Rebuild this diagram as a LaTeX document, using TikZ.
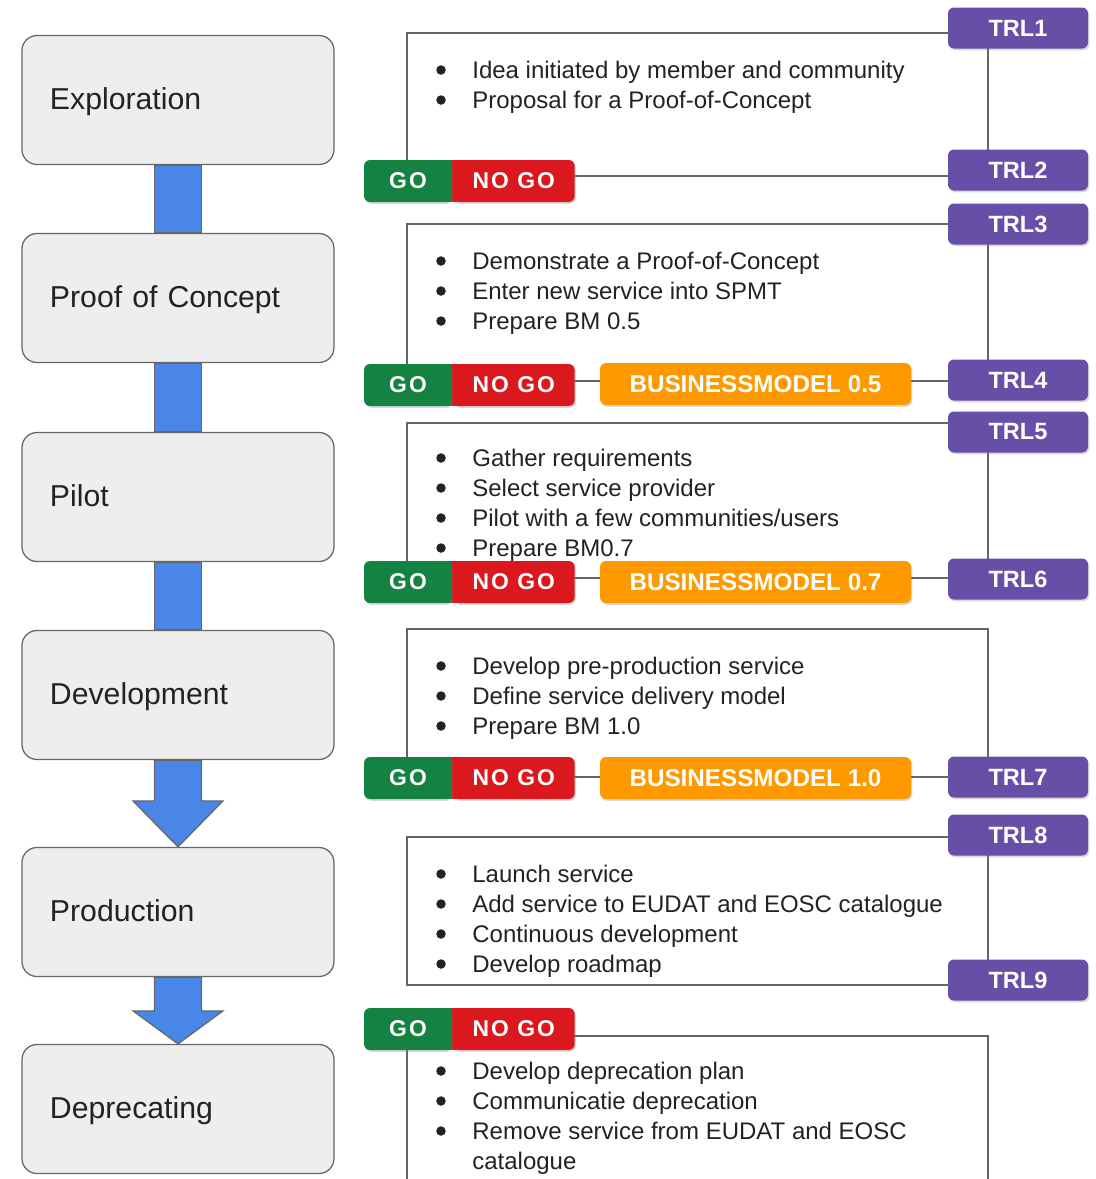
\documentclass[tikz,border=0pt]{standalone}
\usepackage{fontspec}
\setmainfont{Liberation Sans}
\newfontfamily\gofont[LetterSpace=9]{Liberation Sans}
\usetikzlibrary{positioning, calc, backgrounds, shadows}

\definecolor{phasefill}{HTML}{EEEEEE}
\definecolor{linegray}{HTML}{666666}
\definecolor{flowblue}{HTML}{4A86E8}
\definecolor{trlpurple}{HTML}{674EA7}
\definecolor{gogreen}{RGB}{20,130,65}
\definecolor{nogored}{RGB}{218,24,30}
\definecolor{bmorange}{HTML}{FF9900}
\definecolor{txt}{HTML}{222222}

\begin{document}
\begin{tikzpicture}[
  x=0.2mm, y=-0.2mm,
  phase/.style   ={draw=linegray, line width=0.25mm, fill=phasefill, rounded corners=3mm, minimum width=62.4mm, minimum height=25.8mm, inner xsep=5.6mm, text width=51.2mm, align=left, text height=13.4pt, text depth=2.5pt, font=\fontsize{17.2}{20}\selectfont, text=txt},
  bar/.style     ={draw=linegray, line width=0.25mm, fill=flowblue},
  frame/.style   ={draw=linegray, line width=0.3mm},
  badge/.style   ={rounded corners=1.2mm, text=white, minimum height=8.4mm, inner sep=0pt, drop shadow={shadow xshift=0.25mm, shadow yshift=-0.35mm, opacity=0.3}},
  trl/.style     ={badge, fill=trlpurple, minimum width=28mm, minimum height=8.2mm, font=\fontsize{13.4}{16}\selectfont\bfseries},
  bm/.style      ={badge, fill=bmorange, minimum width=62.2mm, font=\fontsize{13.8}{16}\selectfont\bfseries},
  gobox/.style   ={badge, fill=gogreen, minimum width=17.6mm, font=\gofont\fontsize{13}{15}\selectfont\bfseries},
  nogobox/.style ={badge, fill=nogored, minimum width=24.4mm, font=\gofont\fontsize{13}{15}\selectfont\bfseries},
  itemtext/.style={anchor=base west, inner sep=0pt, text=txt, font=\fontsize{13.66}{16}\selectfont},
  listitem/.style={itemtext, append after command={($(\tikzlastnode.base west)+(-31,-8)$) circle[radius=0.95mm]}},
]
\useasboundingbox (0,0) rectangle (1096,1179);

% phases
\node[phase] (explo) at (178,100)  {Exploration};
\node[phase] (poc)   at (178,298)  {Proof of Concept};
\node[phase] (pilot) at (178,497)  {Pilot};
\node[phase] (dev)   at (178,695)  {Development};
\node[phase] (prod)  at (178,912)  {Production};
\node[phase] (depr)  at (178,1109) {Deprecating};
\foreach \a/\b in {explo/poc, poc/pilot, pilot/dev}
  \draw[bar] ([xshift=-4.7mm]\a.south) rectangle ([xshift=4.7mm]\b.north);
\foreach \a/\b/\h in {dev/prod/46, prod/depr/33}
  \draw[bar] (\b.north) -- ++(-45,-\h) -- ++(21.5,0) -- ([xshift=-4.7mm]\a.south)
    -- ([xshift=4.7mm]\a.south) -- ($(\b.north)+(23.5,-\h)$) -- ++(21.5,0) -- cycle;

% step frames
\begin{scope}[on background layer]
  \draw[frame] (407,33)  rectangle (988,176);
  \draw[frame] (407,224) rectangle (988,381);
  \draw[frame] (407,423) rectangle (988,578);
  \draw[frame] (407,629) rectangle (988,777);
  \draw[frame] (407,837) rectangle (988,985);
  \draw[frame] (407,1179) |- (988,1036) -- (988,1179);
\end{scope}

% activities
\foreach \t [count=\i] in {Idea initiated by member and community, Proposal for a Proof-of-Concept}
  \fill[txt] (472,{48+30*\i}) node[listitem] (ex\i) {\t};
\foreach \t [count=\i] in {Demonstrate a Proof-of-Concept, Enter new service into SPMT, Prepare BM 0.5}
  \fill[txt] (472,{239+30*\i}) node[listitem] (pc\i) {\t};
\foreach \t [count=\i] in {Gather requirements, Select service provider, Pilot with a few communities/users, Prepare BM0.7}
  \fill[txt] (472,{436+30*\i}) node[listitem] (pl\i) {\t};
\foreach \t [count=\i] in {Develop pre-production service, Define service delivery model, Prepare BM 1.0}
  \fill[txt] (472,{644+30*\i}) node[listitem] (dv\i) {\t};
\foreach \t [count=\i] in {Launch service, Add service to EUDAT and EOSC catalogue, Continuous development, Develop roadmap}
  \fill[txt] (472,{852+30*\i}) node[listitem] (pr\i) {\t};
\foreach \t [count=\i] in {Develop deprecation plan, Communicatie deprecation, Remove service from EUDAT and EOSC}
  \fill[txt] (472,{1049+30*\i}) node[listitem] (dp\i) {\t};
\node[itemtext] (dp4) at (472,1169) {catalogue};

% gates
\foreach \n/\y in {1/181, 2/385, 3/582, 4/778, 6/1029} {
  \node[gobox] (go\n) at (408,\y) {GO};
  \node[nogobox, anchor=west] (ng\n) at (go\n.east) {NO GO};
  \begin{scope}[on background layer]
    \fill[gogreen] (go\n.north) rectangle (go\n.south east);
    \fill[nogored] (ng\n.north west) rectangle (ng\n.south);
  \end{scope}
}
\foreach \n/\v/\y in {2/0.5/384, 3/0.7/582, 4/1.0/778}
  \node[bm] (bm\n) at (755.5,\y) {BUSINESSMODEL \v};
\foreach \n/\y in {1/28, 2/170, 3/224, 4/380, 5/432, 6/579, 7/777, 8/835, 9/980}
  \node[trl] (trl\n) at (1018,\y) {TRL\n};
\end{tikzpicture}
\end{document}
